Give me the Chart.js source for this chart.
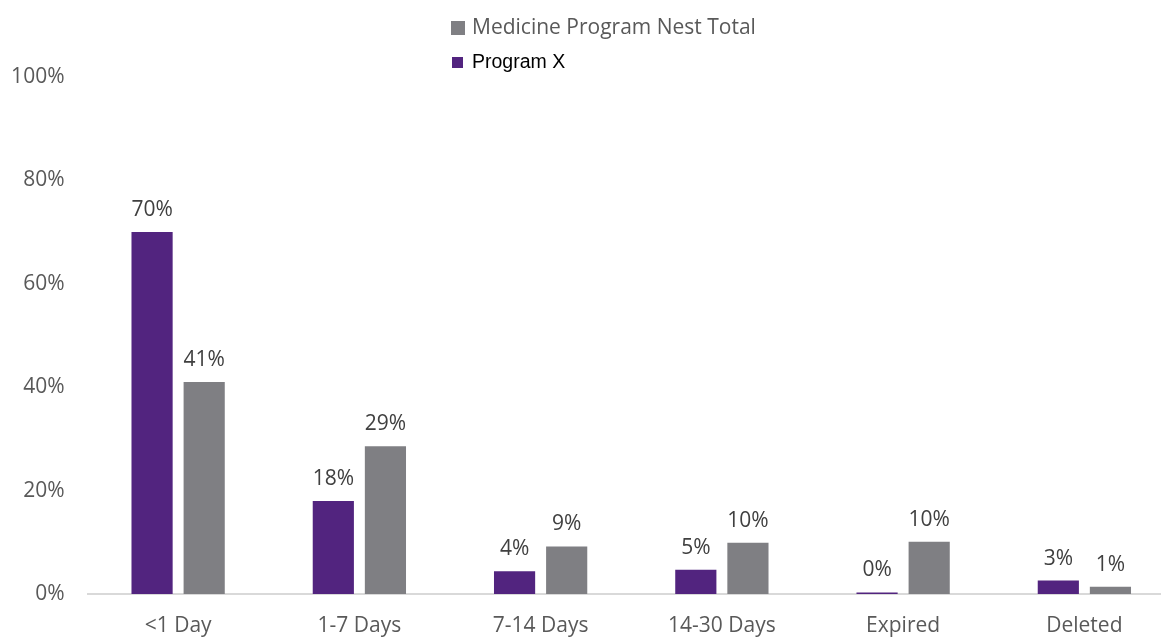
<!DOCTYPE html>
<html lang="en">
<head>
  <meta charset="UTF-8">
  <title>Program X vs Medicine Program Nest Total</title>
  <script src="https://cdn.jsdelivr.net/npm/chart.js"></script>
  <style>
    html, body { margin: 0; padding: 0; background: #fff; overflow: hidden; }
    #wrap { position: relative; width: 1175px; height: 637px; }
    .legend { position: absolute; left: 451px; top: 10px; }
    .item { position: absolute; white-space: nowrap; }
    .item span.box { position: absolute; }
    #leg0 { top: 2px; left: 0; font: 21px "Open Sans", sans-serif; color: #595959; }
    #leg0 .box { width: 14px; height: 14px; left: 0; top: 9px; }
    #leg0 .txt { position: absolute; left: 21px; top: 0; line-height: 28px; }
    #leg1 { top: 38px; left: 0; font: 19.5px "Liberation Sans", Arial, sans-serif; color: #000; }
    #leg1 .box { width: 11px; height: 11px; left: 1px; top: 9px; }
    #leg1 .txt { position: absolute; left: 21px; top: 0; line-height: 26px; }
  </style>
</head>
<body>
<div id="wrap">
  <canvas id="myChart"></canvas>
  <div class="legend" id="legend"></div>
</div>

<script>
  const categories = ['<1 Day', '1-7 Days', '7-14 Days', '14-30 Days', 'Expired', 'Deleted'];
  const programX = [70, 18, 4.4, 4.7, 0.3, 2.6];
  const nestTotal = [41, 28.6, 9.2, 9.9, 10.1, 1.4];
  const yTicks = [0, 20, 40, 60, 80, 100];

  const purple = '#52247f';
  const gray = '#7f7f83';

  // legend is listed gray first, then purple, each in its own font
  const legendItems = [
    { label: 'Medicine Program Nest Total', color: gray },
    { label: 'Program X', color: purple }
  ];
  const legend = document.getElementById('legend');
  legendItems.forEach((it, i) => {
    const d = document.createElement('div');
    d.className = 'item';
    d.id = 'leg' + i;
    d.innerHTML = '<span class="box" style="background:' + it.color + '"></span><span class="txt">' + it.label + '</span>';
    legend.appendChild(d);
  });

  const valueLabels = {
    id: 'valueLabels',
    afterDatasetsDraw(chart) {
      const ctx = chart.ctx;
      ctx.save();
      ctx.font = '21px "Open Sans", sans-serif';
      ctx.fillStyle = '#404040';
      ctx.textAlign = 'center';
      ctx.textBaseline = 'alphabetic';
      chart.data.datasets.forEach((ds, i) => {
        chart.getDatasetMeta(i).data.forEach((bar, j) => {
          ctx.fillText(Math.round(ds.data[j]) + '%', bar.x, bar.y - 16);
        });
      });
      ctx.restore();
    }
  };

  const ctx = document.getElementById('myChart').getContext('2d');
  const myChart = new Chart(ctx, {
    type: 'bar',
    data: {
      labels: categories,
      datasets: [
        {
          label: 'Program X',
          data: programX,
          backgroundColor: purple,
          barPercentage: 0.79,
          categoryPercentage: 0.575
        },
        {
          label: 'Medicine Program Nest Total',
          data: nestTotal,
          backgroundColor: gray,
          barPercentage: 0.79,
          categoryPercentage: 0.575
        }
      ]
    },
    options: {
      responsive: true,
      maintainAspectRatio: false,
      animation: false,
      layout: { padding: { top: 77, right: 0, bottom: 0, left: 0 } },
      plugins: {
        legend: { display: false },
        tooltip: { enabled: false }
      },
      scales: {
        x: {
          grid: { display: false },
          border: { display: true, color: '#d9d9d9', width: 2 },
          ticks: {
            color: '#595959',
            font: { family: 'Open Sans', size: 21 },
            padding: 11,
            maxRotation: 0
          },
          afterFit(scale) { scale.height = 43; }
        },
        y: {
          min: 0,
          max: 100,
          grid: { display: false },
          border: { display: false },
          afterBuildTicks(scale) { scale.ticks = yTicks.map(v => ({ value: v })); },
          ticks: {
            color: '#595959',
            font: { family: 'Open Sans', size: 21 },
            padding: 15,
            callback: v => v + '%'
          },
          afterFit(scale) { scale.width = 87.5; }
        }
      }
    },
    plugins: [valueLabels]
  });
</script>
</body>
</html>
